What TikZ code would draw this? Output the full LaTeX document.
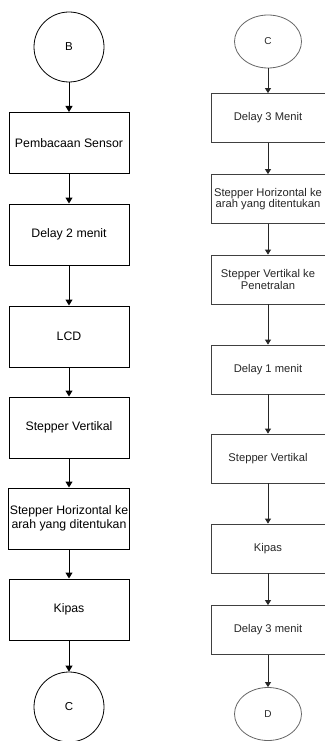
\documentclass[tikz,border=0pt]{standalone}
\usepackage{fontspec}
\setmainfont{Liberation Sans}
\usetikzlibrary{arrows.meta,shapes.geometric}

\begin{document}
\begin{tikzpicture}[x = 1pt, y = -1pt,
  lbox/.style = {draw, line width = 1pt, minimum width = 120pt, minimum height = 61pt, inner sep = 1pt, align = center, font = \fontsize{12.3}{14}\selectfont},
  rbox/.style = {draw = black!75, text = black!85, line width = 0.8pt, minimum width = 114pt, minimum height = 49pt, inner sep = 1pt, align = center, font = \fontsize{11.2}{11.5}\selectfont},
  lterm/.style = {draw, circle, line width = 0.8pt, minimum size = 70pt, inner sep = 0pt, font = \fontsize{11.5}{13}\selectfont},
  rterm/.style = {draw = black!60, ellipse, line width = 0.8pt, minimum width = 67pt, minimum height = 53pt, inner sep = 0pt, text = black!85, font = \fontsize{10}{12}\selectfont},
  lflow/.style = {-{Triangle[width = 7pt, length = 6pt]}, line width = 1pt},
  rflow/.style = {-{Triangle[width = 6pt, length = 5pt]}, line width = 0.8pt, draw = black!85}]
\useasboundingbox (0, 0) rectangle (324, 741);
\node[lterm] (bL) at (69, 47){B};
\node[lbox] (sensorL) at (69, 143){Pembacaan Sensor};
\node[lbox] (delayL) at (69, 234.5){Delay 2 menit};
\node[lbox] (lcdL) at (69, 336.5){LCD};
\node[lbox] (vertL) at (69, 427.5){Stepper Vertikal};
\node[lbox] (horL) at (69, 518.5){Stepper Horizontal ke\\arah yang ditentukan};
\node[lbox] (kipasL) at (69, 609.5){Kipas};
\node[lterm] (cL) at (69, 707){C};
\node[rterm] (cR) at (268, 41.5){C};
\node[rbox] (delayaR) at (268, 118){Delay 3 Menit};
\node[rbox] (horR) at (268, 199){Stepper Horizontal ke\\arah yang ditentukan};
\node[rbox] (netralR) at (268, 279.5){Stepper Vertikal ke\\Penetralan};
\node[rbox] (delaybR) at (268, 369.5){Delay 1 menit};
\node[rbox] (vertR) at (268, 458.5){Stepper Vertikal};
\node[rbox] (kipasR) at (268, 548.5){Kipas};
\node[rbox] (delaycR) at (268, 630){Delay 3 menit};
\node[rterm] (dR) at (268, 714){D};
\draw[lflow] (bL) -- (sensorL);
\draw[lflow] (sensorL) -- (delayL);
\draw[lflow] (delayL) -- (lcdL);
\draw[lflow] (lcdL) -- (vertL);
\draw[lflow] (vertL) -- (horL);
\draw[lflow] (horL) -- (kipasL);
\draw[lflow] (kipasL) -- (cL);
\draw[rflow] (cR) -- (delayaR);
\draw[rflow] (delayaR) -- (horR);
\draw[rflow] (horR) -- (netralR);
\draw[rflow] (netralR) -- (delaybR);
\draw[rflow] (delaybR) -- (vertR);
\draw[rflow] (vertR) -- (kipasR);
\draw[rflow] (kipasR) -- (delaycR);
\draw[rflow] (delaycR) -- (dR);
\end{tikzpicture}
\end{document}
